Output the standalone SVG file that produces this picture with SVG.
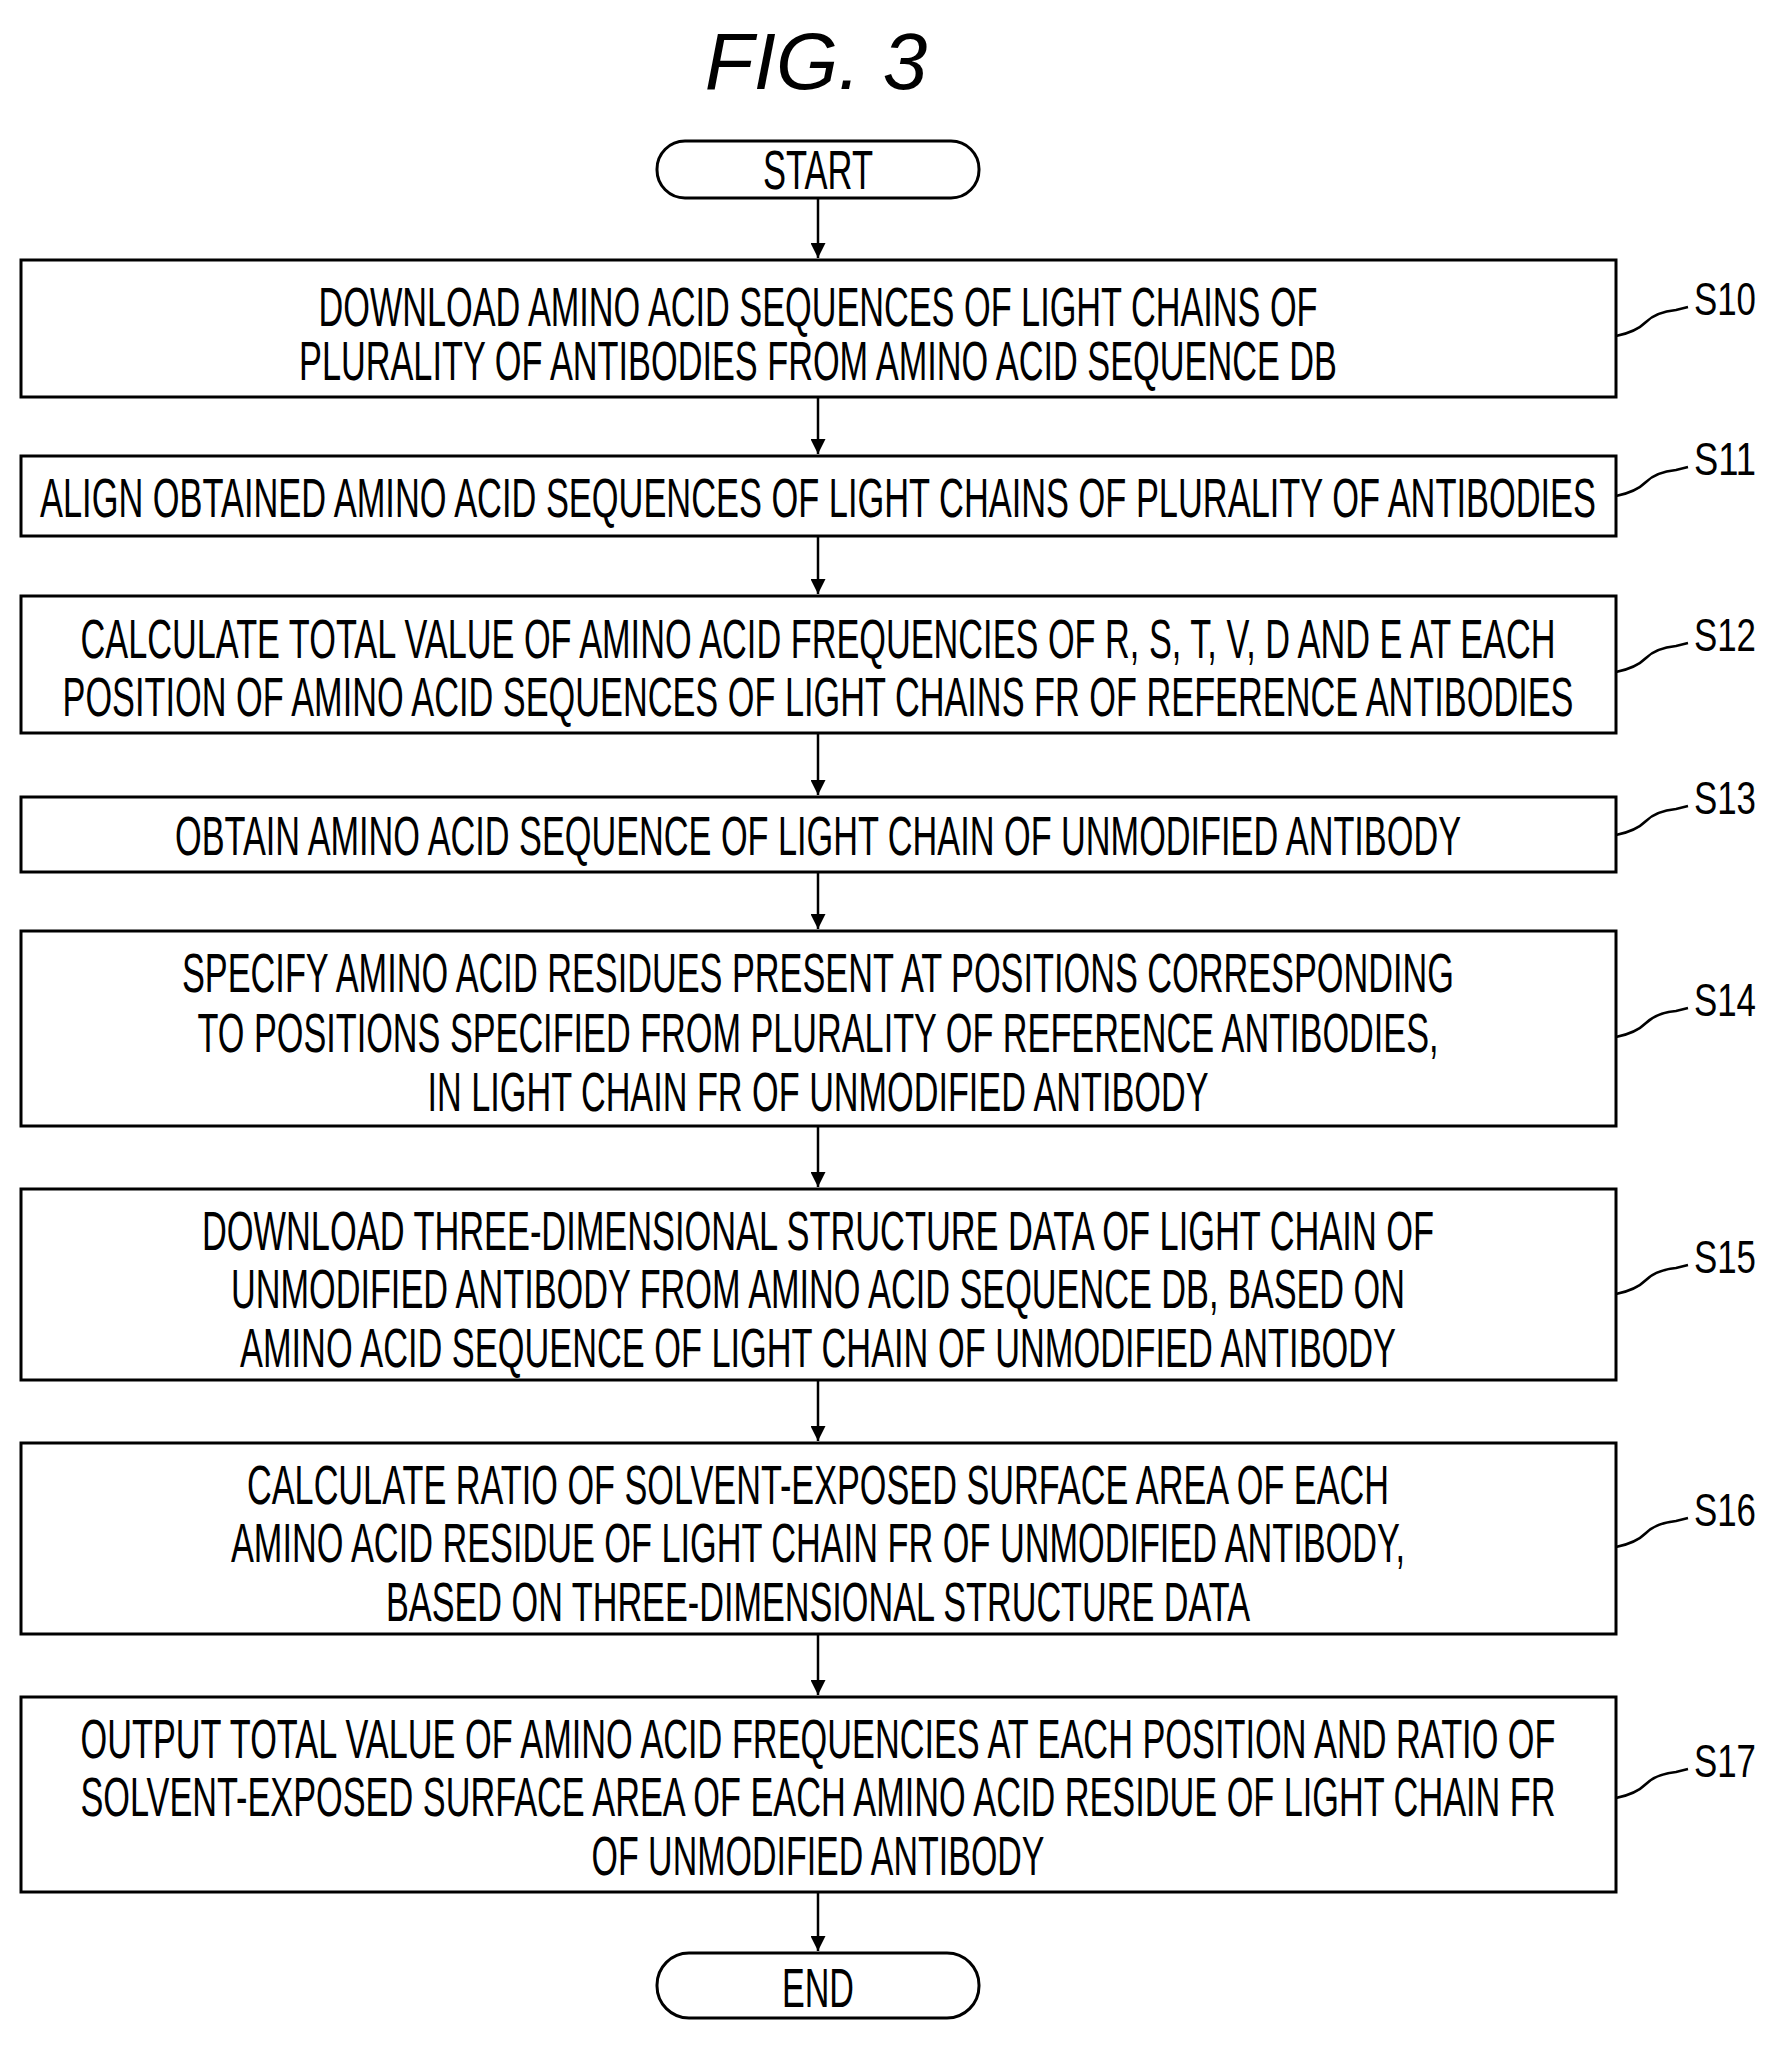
<svg xmlns="http://www.w3.org/2000/svg" width="1773" height="2045" viewBox="0 0 1773 2045">
<defs>
<style>
.t{font-family:"Liberation Sans",Arial,sans-serif;font-size:56px;fill:#000;text-anchor:middle}
.l{font-family:"Liberation Sans",Arial,sans-serif;font-size:46px;fill:#000}
.b{fill:#fff;stroke:#000;stroke-width:3}
.c{fill:none;stroke:#000;stroke-width:2.5}
</style>
<marker id="ah" viewBox="0 0 10 10" refX="10" refY="5" markerWidth="6" markerHeight="6" orient="auto" markerUnits="strokeWidth"><path d="M0,0L10,5L0,10z" fill="#000"/></marker>
</defs>
<rect width="1773" height="2045" fill="#fff"/>
<text x="816" y="89" font-family="Liberation Sans,Arial,sans-serif" font-size="80" font-style="italic" text-anchor="middle">FIG. 3</text>
<g id="connectors">
<line class="c" x1="818" y1="198" x2="818" y2="258" marker-end="url(#ah)"/>
<line class="c" x1="818" y1="397" x2="818" y2="454" marker-end="url(#ah)"/>
<line class="c" x1="818" y1="536" x2="818" y2="594" marker-end="url(#ah)"/>
<line class="c" x1="818" y1="733" x2="818" y2="795" marker-end="url(#ah)"/>
<line class="c" x1="818" y1="872" x2="818" y2="929" marker-end="url(#ah)"/>
<line class="c" x1="818" y1="1126" x2="818" y2="1187" marker-end="url(#ah)"/>
<line class="c" x1="818" y1="1380" x2="818" y2="1441" marker-end="url(#ah)"/>
<line class="c" x1="818" y1="1634" x2="818" y2="1695" marker-end="url(#ah)"/>
<line class="c" x1="818" y1="1892" x2="818" y2="1951" marker-end="url(#ah)"/>
<path class="c" d="M1616,336 q20,-4 30,-14 t30,-12 l12,-3"/>
<path class="c" d="M1616,496 q20,-4 30,-14 t30,-12 l12,-3"/>
<path class="c" d="M1616,672 q20,-4 30,-14 t30,-12 l12,-3"/>
<path class="c" d="M1616,835 q20,-4 30,-14 t30,-12 l12,-3"/>
<path class="c" d="M1616,1037 q20,-4 30,-14 t30,-12 l12,-3"/>
<path class="c" d="M1616,1294 q20,-4 30,-14 t30,-12 l12,-3"/>
<path class="c" d="M1616,1547 q20,-4 30,-14 t30,-12 l12,-3"/>
<path class="c" d="M1616,1798 q20,-4 30,-14 t30,-12 l12,-3"/>
</g>
<g id="start"><rect class="b" x="657" y="141" width="322" height="57" rx="28"/><text class="t" x="818" y="189" textLength="110" lengthAdjust="spacingAndGlyphs">START</text></g>
<g id="s10"><rect class="b" x="21" y="260" width="1595" height="137"/>
<text class="t" x="818" y="326" textLength="999" lengthAdjust="spacingAndGlyphs">DOWNLOAD AMINO ACID SEQUENCES OF LIGHT CHAINS OF</text>
<text class="t" x="818" y="380" textLength="1038" lengthAdjust="spacingAndGlyphs">PLURALITY OF ANTIBODIES FROM AMINO ACID SEQUENCE DB</text>
<text class="l" x="1694" y="315" textLength="62" lengthAdjust="spacingAndGlyphs">S10</text></g>
<g id="s11"><rect class="b" x="21" y="456" width="1595" height="80"/>
<text class="t" x="818" y="517" textLength="1556" lengthAdjust="spacingAndGlyphs">ALIGN OBTAINED AMINO ACID SEQUENCES OF LIGHT CHAINS OF PLURALITY OF ANTIBODIES</text>
<text class="l" x="1694" y="475" textLength="62" lengthAdjust="spacingAndGlyphs">S11</text></g>
<g id="s12"><rect class="b" x="21" y="596" width="1595" height="137"/>
<text class="t" x="818" y="658" textLength="1475" lengthAdjust="spacingAndGlyphs">CALCULATE TOTAL VALUE OF AMINO ACID FREQUENCIES OF R, S, T, V, D AND E AT EACH</text>
<text class="t" x="818" y="716" textLength="1511" lengthAdjust="spacingAndGlyphs">POSITION OF AMINO ACID SEQUENCES OF LIGHT CHAINS FR OF REFERENCE ANTIBODIES</text>
<text class="l" x="1694" y="651" textLength="62" lengthAdjust="spacingAndGlyphs">S12</text></g>
<g id="s13"><rect class="b" x="21" y="797" width="1595" height="75"/>
<text class="t" x="818" y="855" textLength="1286" lengthAdjust="spacingAndGlyphs">OBTAIN AMINO ACID SEQUENCE OF LIGHT CHAIN OF UNMODIFIED ANTIBODY</text>
<text class="l" x="1694" y="814" textLength="62" lengthAdjust="spacingAndGlyphs">S13</text></g>
<g id="s14"><rect class="b" x="21" y="931" width="1595" height="195"/>
<text class="t" x="818" y="992" textLength="1272" lengthAdjust="spacingAndGlyphs">SPECIFY AMINO ACID RESIDUES PRESENT AT POSITIONS CORRESPONDING</text>
<text class="t" x="818" y="1052" textLength="1241" lengthAdjust="spacingAndGlyphs">TO POSITIONS SPECIFIED FROM PLURALITY OF REFERENCE ANTIBODIES,</text>
<text class="t" x="818" y="1111" textLength="781" lengthAdjust="spacingAndGlyphs">IN LIGHT CHAIN FR OF UNMODIFIED ANTIBODY</text>
<text class="l" x="1694" y="1016" textLength="62" lengthAdjust="spacingAndGlyphs">S14</text></g>
<g id="s15"><rect class="b" x="21" y="1189" width="1595" height="191"/>
<text class="t" x="818" y="1250" textLength="1232" lengthAdjust="spacingAndGlyphs">DOWNLOAD THREE-DIMENSIONAL STRUCTURE DATA OF LIGHT CHAIN OF</text>
<text class="t" x="818" y="1308" textLength="1174" lengthAdjust="spacingAndGlyphs">UNMODIFIED ANTIBODY FROM AMINO ACID SEQUENCE DB, BASED ON</text>
<text class="t" x="818" y="1367" textLength="1156" lengthAdjust="spacingAndGlyphs">AMINO ACID SEQUENCE OF LIGHT CHAIN OF UNMODIFIED ANTIBODY</text>
<text class="l" x="1694" y="1273" textLength="62" lengthAdjust="spacingAndGlyphs">S15</text></g>
<g id="s16"><rect class="b" x="21" y="1443" width="1595" height="191"/>
<text class="t" x="818" y="1504" textLength="1142" lengthAdjust="spacingAndGlyphs">CALCULATE RATIO OF SOLVENT-EXPOSED SURFACE AREA OF EACH</text>
<text class="t" x="818" y="1562" textLength="1174" lengthAdjust="spacingAndGlyphs">AMINO ACID RESIDUE OF LIGHT CHAIN FR OF UNMODIFIED ANTIBODY,</text>
<text class="t" x="818" y="1621" textLength="864" lengthAdjust="spacingAndGlyphs">BASED ON THREE-DIMENSIONAL STRUCTURE DATA</text>
<text class="l" x="1694" y="1526" textLength="62" lengthAdjust="spacingAndGlyphs">S16</text></g>
<g id="s17"><rect class="b" x="21" y="1697" width="1595" height="195"/>
<text class="t" x="818" y="1758" textLength="1475" lengthAdjust="spacingAndGlyphs">OUTPUT TOTAL VALUE OF AMINO ACID FREQUENCIES AT EACH POSITION AND RATIO OF</text>
<text class="t" x="818" y="1816" textLength="1475" lengthAdjust="spacingAndGlyphs">SOLVENT-EXPOSED SURFACE AREA OF EACH AMINO ACID RESIDUE OF LIGHT CHAIN FR</text>
<text class="t" x="818" y="1875" textLength="453" lengthAdjust="spacingAndGlyphs">OF UNMODIFIED ANTIBODY</text>
<text class="l" x="1694" y="1777" textLength="62" lengthAdjust="spacingAndGlyphs">S17</text></g>
<g id="end"><rect class="b" x="657" y="1953" width="322" height="65" rx="32"/><text class="t" x="818" y="2007" textLength="72" lengthAdjust="spacingAndGlyphs">END</text></g>
</svg>
